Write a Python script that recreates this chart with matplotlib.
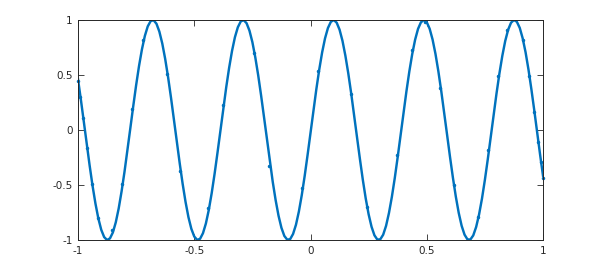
import matplotlib
matplotlib.use("Agg")
import matplotlib.pyplot as plt
import numpy as np

plt.rcParams['font.family'] = ['DejaVu Sans']
plt.rcParams['axes.unicode_minus'] = False

# curve samples, evenly spaced from -1 to 1
x = np.linspace(-1, 1, 161)
y = [0.462, 0.274, 0.076, -0.126, -0.322, -0.506, -0.668, -0.804, -0.907, -0.973,
     -1.000, -0.985, -0.931, -0.839, -0.713, -0.557, -0.380, -0.186, 0.015, 0.215,
     0.407, 0.582, 0.733, 0.855, 0.942, 0.990, 0.998, 0.966, 0.894, 0.786,
     0.646, 0.480, 0.294, 0.096, -0.105, -0.303, -0.488, -0.653, -0.792, -0.898,
     -0.968, -0.999, -0.989, -0.938, -0.850, -0.727, -0.574, -0.398, -0.206, -0.006,
     0.195, 0.388, 0.565, 0.719, 0.844, 0.934, 0.987, 0.999, 0.971, 0.903,
     0.799, 0.661, 0.498, 0.314, 0.117, -0.085, -0.283, -0.470, -0.637, -0.779,
     -0.889, -0.963, -0.997, -0.992, -0.945, -0.861, -0.741, -0.591, -0.417, -0.226,
     -0.026, 0.175, 0.369, 0.548, 0.705, 0.833, 0.927, 0.983, 1.000, 0.976,
     0.912, 0.811, 0.676, 0.515, 0.333, 0.137, -0.065, -0.263, -0.452, -0.622,
     -0.766, -0.879, -0.957, -0.996, -0.994, -0.952, -0.871, -0.754, -0.607, -0.436,
     -0.246, -0.047, 0.155, 0.350, 0.531, 0.690, 0.821, 0.919, 0.979, 1.000,
     0.980, 0.920, 0.823, 0.692, 0.533, 0.352, 0.157, -0.044, -0.244, -0.433,
     -0.605, -0.753, -0.870, -0.951, -0.994, -0.996, -0.958, -0.881, -0.768, -0.624,
     -0.454, -0.266, -0.067, 0.134, 0.331, 0.513, 0.674, 0.809, 0.911, 0.975,
     1.000, 0.984, 0.928, 0.834, 0.707, 0.550, 0.371, 0.178, -0.024, -0.224,
     -0.415]

# visible sample markers
mx = [-1.000, -0.993, -0.978, -0.963, -0.941, -0.915, -0.855, -0.812, -0.769, -0.719,
      -0.618, -0.561, -0.440, -0.378, -0.243, -0.177, -0.035, 0.034, 0.174, 0.242,
      0.373, 0.438, 0.492, 0.557, 0.617, 0.719, 0.765, 0.808, 0.846, 0.915,
      0.940, 0.961, 0.980, 0.991, 0.999]
my = [0.448, 0.303, 0.106, -0.161, -0.491, -0.803, -0.909, -0.491, 0.188, 0.818,
      0.506, -0.370, -0.712, 0.227, 0.697, -0.325, -0.530, 0.536, 0.327, -0.697,
      -0.227, 0.727, 0.985, 0.379, -0.500, -0.788, -0.182, 0.491, 0.909, 0.818,
      0.491, 0.166, -0.106, -0.288, -0.434]

ticks = [-1, -0.5, 0, 0.5, 1]
tick_labels = ['-1', '-0.5', '0', '0.5', '1']

blue = '#0072BD'
dark = '#262626'

fig = plt.figure(figsize=(6, 2.7), dpi=100)
ax = fig.add_axes([0.13, 0.111, 0.775, 0.815])

ax.plot(x, y, color=blue, linewidth=1.75, solid_joinstyle='round')
ax.plot(mx, my, linestyle='none', marker='.', markersize=3, color=blue, clip_on=False)

ax.set_xlim(-1, 1)
ax.set_ylim(-1, 1)
ax.set_xticks(ticks)
ax.set_xticklabels(tick_labels)
ax.set_yticks(ticks)
ax.set_yticklabels(tick_labels)

ax.tick_params(direction='in', length=4.5, width=0.6, colors=dark,
               labelsize=7.5, top=True, right=True, pad=4)
for s in ax.spines.values():
    s.set_color(dark)
    s.set_linewidth(0.7)

fig.savefig('out.png', dpi=100)
